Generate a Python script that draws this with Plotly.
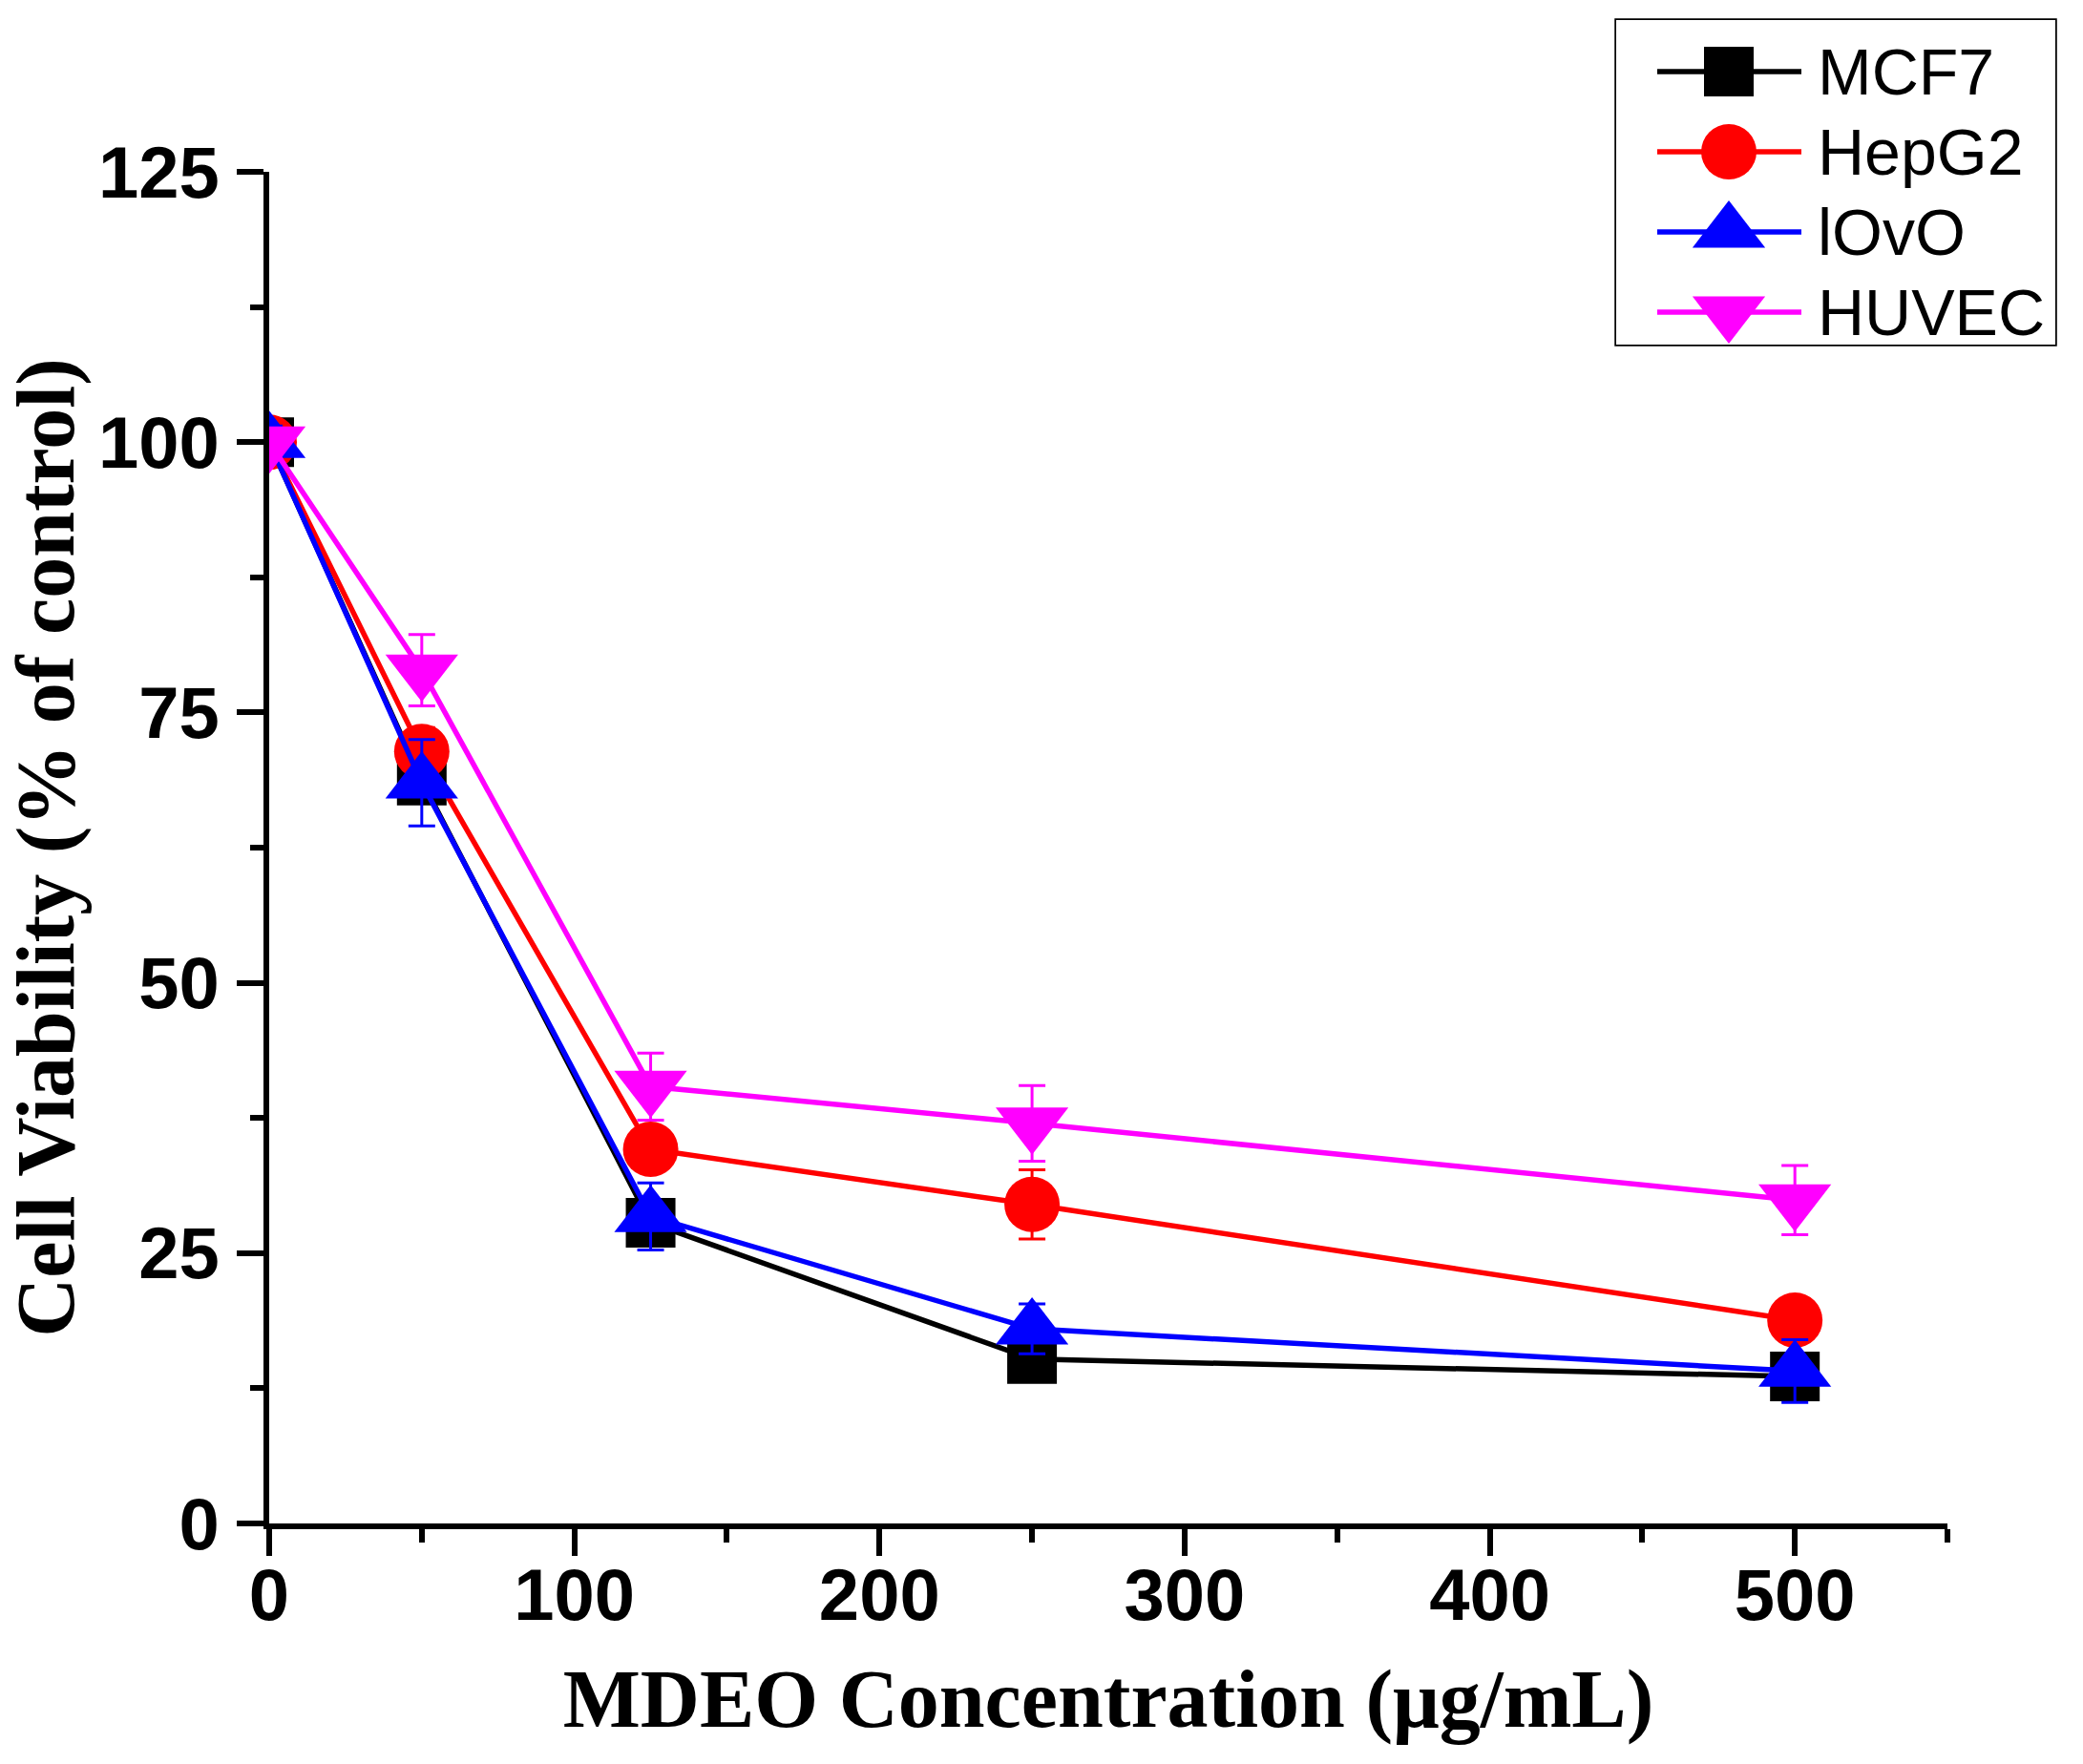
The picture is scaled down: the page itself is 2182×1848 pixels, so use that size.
import plotly.graph_objects as go

# MDEO concentration (ug/mL)
conc = [0, 50, 125, 250, 500]

# cell viability (% of control)
mcf7 = [100, 68.7, 27.8, 15.2, 13.6]
mcf7_err = [1.0, 1.0, 1.5, 1.3, 1.5]
hepg2 = [100, 71.4, 34.6, 29.5, 18.8]
hepg2_err = [1.0, 2.2, 2.0, 3.2, 1.0]
iovo = [100, 68.5, 28.4, 18.0, 14.1]
iovo_err = [1.5, 4.0, 3.1, 2.3, 2.9]
huvec = [100, 78.9, 40.4, 37.0, 29.9]
huvec_err = [1.0, 3.3, 3.1, 3.5, 3.2]

cell_lines = ["MCF7", "HepG2", "lOvO", "HUVEC"]
series = [mcf7, hepg2, iovo, huvec]
errors = [mcf7_err, hepg2_err, iovo_err, huvec_err]

colors = ["#000000", "#FF0000", "#0000FF", "#FF00FF"]
symbols = ["square", "circle", "triangle-up", "triangle-down"]
sizes = [52, 58, 66, 66]

W, H = 2182, 1848
ML, MR, MT, MB = 282, 29, 21, 252   # paper area also covers the legend box
plot_right, plot_top = 2040, 180
pw, ph = W - ML - MR, H - MT - MB

tick_font = dict(family="Liberation Sans, Arial", size=76, color="black", weight="bold")
title_font = dict(family="Liberation Serif, Times New Roman", size=86, color="black", weight="bold")

fig = go.Figure()
for name, y, err, col, sym, sz in zip(cell_lines, series, errors, colors, symbols, sizes):
    fig.add_trace(go.Scatter(
        x=conc, y=y, mode="lines+markers", name=name, showlegend=False,
        line=dict(color=col, width=5.5),
        marker=dict(symbol=sym, size=sz, color=col, line=dict(width=0)),
        error_y=dict(type="data", array=err, color=col, thickness=3, width=14),
    ))

# hand-made legend on an inset axis (1 unit = 1 px, y downwards)
leg_w, leg_h = 460, 340
key_x0, key_xm, key_x1, text_x = 43, 118, 194, 209
row0, row_step = 54, 84
for i, (name, col, sym, sz) in enumerate(zip(cell_lines, colors, symbols, sizes)):
    ry = row0 + i * row_step
    fig.add_trace(go.Scatter(x=[key_x0, key_x1], y=[ry, ry], xaxis="x2", yaxis="y2",
                             mode="lines", line=dict(color=col, width=5.5),
                             showlegend=False, hoverinfo="skip"))
    fig.add_trace(go.Scatter(x=[key_xm], y=[ry], xaxis="x2", yaxis="y2", mode="markers",
                             marker=dict(symbol=sym, size=sz, color=col, line=dict(width=0)),
                             showlegend=False, hoverinfo="skip", cliponaxis=False))
    fig.add_annotation(x=text_x, y=ry, xref="x2", yref="y2", text=name, showarrow=False,
                       xanchor="left", yanchor="middle",
                       font=dict(family="Liberation Sans, Arial", size=68, color="black"))

fig.add_shape(type="rect", xref="x2 domain", yref="y2 domain", x0=0, x1=1, y0=0, y1=1,
              line=dict(color="black", width=3.5), layer="below")

axis_common = dict(showline=True, linecolor="black", linewidth=6, mirror=False,
                   ticks="outside", ticklen=28, tickwidth=6, tickcolor="black",
                   showgrid=False, zeroline=False, tickfont=tick_font, automargin=False)

fig.update_layout(
    width=W, height=H,
    margin=dict(l=ML, r=MR, t=MT, b=MB, autoexpand=False),
    plot_bgcolor="white", paper_bgcolor="white",
    showlegend=False,
    xaxis=dict(domain=[0, (plot_right - ML) / pw], range=[0, 550], tick0=0, dtick=100,
               minor=dict(dtick=50, ticks="outside", ticklen=14, tickwidth=6, tickcolor="black"),
               title=dict(text="MDEO Concentration (μg/mL)", font=title_font, standoff=39),
               ticklabelstandoff=-24, **axis_common),
    yaxis=dict(domain=[0, (H - MB - plot_top) / ph], range=[0, 125], tick0=0, dtick=25,
               minor=dict(dtick=12.5, ticks="outside", ticklen=14, tickwidth=6, tickcolor="black"),
               title=dict(text="Cell Viability (% of control)", font=title_font, standoff=14),
               ticklabelstandoff=3, **axis_common),
    xaxis2=dict(domain=[1 - leg_w / pw, 1], range=[0, leg_w], visible=False, fixedrange=True),
    yaxis2=dict(domain=[1 - leg_h / ph, 1], range=[leg_h, 0], visible=False, fixedrange=True),
)

fig.write_html("out.html", config={"displayModeBar": False},
               post_script="document.body.style.margin='0';document.body.style.overflow='hidden';")
